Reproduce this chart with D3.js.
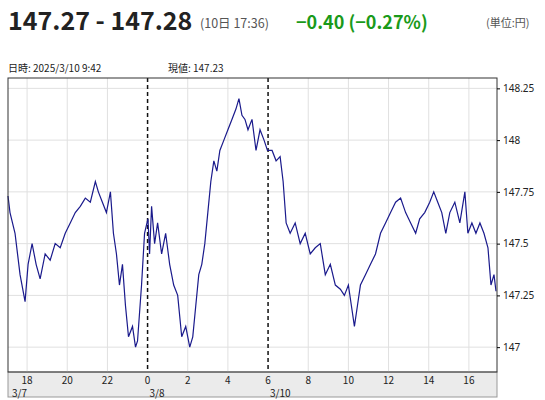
<!DOCTYPE html>
<html><head><meta charset="utf-8">
<script src="https://cdn.jsdelivr.net/npm/d3@7"></script>
<style>body{margin:0;background:#fff;font-family:"Noto Sans CJK JP","Noto Sans",sans-serif}</style>
</head><body><svg id="c" width="545" height="400"></svg>
<script>
// hours since 3/7 17:00
const times = [0.05,0.15,0.4,0.65,0.9,1.05,1.25,1.45,1.65,1.9,2.15,2.4,2.65,2.9,3.15,3.4,3.65,3.9,4.15,4.4,4.55,4.75,4.95,5.15,5.3,5.45,5.6,5.75,5.9,6.05,6.25,6.4,6.5,6.7,6.85,6.97,
7.02,7.1,7.2,7.35,7.5,7.7,7.9,8.1,8.3,8.5,8.7,8.9,9.1,9.25,9.4,9.55,9.7,9.85,10.0,10.15,10.3,10.45,10.6,10.8,11.0,11.2,11.4,11.55,11.7,11.85,12.0,12.2,12.4,12.6,12.8,12.97,
13.2,13.4,13.6,13.75,13.9,14.1,14.35,14.6,14.85,15.1,15.35,15.6,15.85,16.1,16.35,16.6,16.8,17.0,17.15,17.3,17.45,17.6,17.85,18.1,18.35,18.6,18.85,19.1,19.35,19.6,19.85,20.1,20.35,20.55,20.8,21.05,21.25,21.45,21.65,21.85,22.05,22.3,22.55,22.8,22.95,23.15,23.35,23.55,23.75,23.95,24.1,24.25,24.35];
const prices = [147.73,147.65,147.55,147.35,147.22,147.4,147.5,147.4,147.33,147.45,147.42,147.5,147.48,147.55,147.6,147.65,147.68,147.72,147.7,147.8,147.75,147.7,147.65,147.75,147.55,147.45,147.3,147.4,147.2,147.05,147.1,147.0,147.03,147.3,147.55,147.6,
147.62,147.45,147.68,147.5,147.6,147.45,147.55,147.4,147.3,147.25,147.05,147.1,147.0,147.05,147.2,147.35,147.4,147.5,147.65,147.8,147.9,147.85,147.95,148.0,148.05,148.1,148.15,148.2,148.12,148.1,148.05,148.1,147.95,148.05,148.0,147.95,
147.95,147.9,147.92,147.8,147.6,147.55,147.6,147.5,147.55,147.45,147.48,147.5,147.35,147.4,147.3,147.28,147.25,147.3,147.2,147.1,147.2,147.3,147.35,147.4,147.45,147.55,147.6,147.65,147.7,147.72,147.65,147.6,147.55,147.62,147.65,147.7,147.75,147.7,147.65,147.55,147.65,147.7,147.6,147.75,147.55,147.6,147.55,147.6,147.55,147.48,147.3,147.35,147.27];
const hourTicks = [1,3,5,7,9,11,13,15,17,19,21,23];
const hourLabels = ["18","20","22","0","2","4","6","8","10","12","14","16"];
const dateTicks = [1,7,13];
const dateLabels = ["3/7","3/8","3/10"];
const yTicks = [147,147.25,147.5,147.75,148,148.25];
const yLabels = ["147","147.25","147.5","147.75","148","148.25"];

const svg = d3.select("#c");
const L=8,R=497,T=78,B=372;
const x = d3.scaleLinear().domain([0.05,24.4]).range([L,R]);
const y = d3.scaleLinear().domain([146.88,148.30]).range([B,T]);

svg.append("text").attr("x",8).attr("y",30).attr("font-size",25).attr("font-weight","bold").attr("fill","#222").text("147.27 - 147.28");
svg.append("text").attr("x",200).attr("y",28).attr("font-size",12.5).attr("fill","#555").text("(10日 17:36)");
svg.append("text").attr("x",296).attr("y",29).attr("font-size",18).attr("font-weight","bold").attr("fill","#1a9a1a").text("−0.40 (−0.27%)");
svg.append("text").attr("x",486).attr("y",27).attr("font-size",11).attr("fill","#555").text("(単位:円)");
svg.append("text").attr("x",8).attr("y",72).attr("font-size",10).attr("fill","#222").text("日時: 2025/3/10  9:42");
svg.append("text").attr("x",168).attr("y",72).attr("font-size",10).attr("fill","#222").text("現値: 147.23");

svg.append("rect").attr("x",L).attr("y",B).attr("width",R-L).attr("height",25).attr("fill","#ebebeb").attr("stroke","#999");
svg.append("g").selectAll("line").data(hourTicks.filter(t=>t!==7&&t!==13)).join("line")
 .attr("x1",d=>x(d)).attr("x2",d=>x(d)).attr("y1",T).attr("y2",B).attr("stroke","#e0e0e0");
svg.append("g").selectAll("line").data(yTicks).join("line")
 .attr("x1",L).attr("x2",R).attr("y1",d=>y(d)).attr("y2",d=>y(d)).attr("stroke","#e0e0e0");
svg.append("g").selectAll("line").data([7,13]).join("line")
 .attr("x1",d=>x(d)).attr("x2",d=>x(d)).attr("y1",T).attr("y2",B).attr("stroke","#111").attr("stroke-width",1.5).attr("stroke-dasharray","4,3");
svg.append("path").datum(times.map((t,i)=>[t,prices[i]])).attr("fill","none").attr("stroke","#1a1a8c").attr("stroke-width",1.2)
 .attr("d",d3.line().x(d=>x(d[0])).y(d=>y(d[1])));
svg.append("rect").attr("x",L).attr("y",T).attr("width",R-L).attr("height",B-T).attr("fill","none").attr("stroke","#333");
const ya = svg.append("g").attr("transform",`translate(${R},0)`).call(d3.axisRight(y).tickValues(yTicks).tickFormat((d,i)=>yLabels[i]).tickSize(3));
ya.select(".domain").remove();
ya.selectAll("text").attr("font-size",10).attr("fill","#222").attr("font-family","Noto Sans");
svg.append("g").selectAll("text").data(hourTicks).join("text").attr("x",d=>x(d)).attr("y",384).attr("text-anchor","middle")
 .attr("font-size",10).attr("fill","#222").text((d,i)=>hourLabels[i]);
svg.append("g").selectAll("text").data(dateTicks).join("text").attr("x",(d,i)=>i===0?L+4:x(d)+2).attr("y",397)
 .attr("font-size",10).attr("fill","#222").text((d,i)=>dateLabels[i]);
</script></body></html>
